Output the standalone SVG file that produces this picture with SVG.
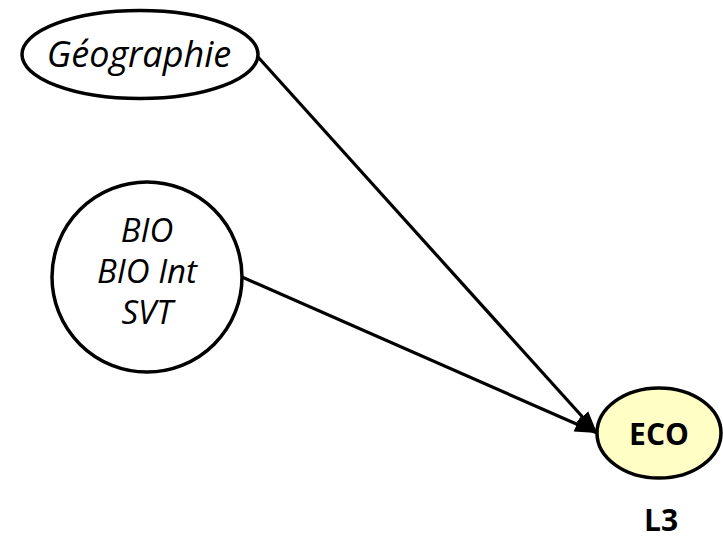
<svg xmlns="http://www.w3.org/2000/svg" width="723" height="540" viewBox="0 0 723 540">
  <style>
    .shape { stroke: #000; stroke-width: 3.5; }
    .lbl { font-family: "Open Sans", "Noto Sans", sans-serif; fill: #000; text-anchor: middle; }
    .it { font-style: italic; }
    .bd { font-weight: bold; }
    .conn { stroke: #000; stroke-width: 3.2; fill: none; }
  </style>
  <defs>
    <marker id="arrow" markerUnits="userSpaceOnUse" markerWidth="24" markerHeight="20" refX="22" refY="10" orient="auto">
      <path d="M0,2 L22,10 L0,18 Z" fill="#000"/>
    </marker>
  </defs>
  <rect width="723" height="540" fill="#fff"/>
  <g id="connectors">
    <line class="conn" x1="258" y1="57" x2="597" y2="433" marker-end="url(#arrow)"/>
    <line class="conn" x1="242" y1="277" x2="597" y2="433" marker-end="url(#arrow)"/>
  </g>
  <g id="geographie">
    <ellipse class="shape" cx="140" cy="54.5" rx="118" ry="44" fill="#fff"/>
    <text class="lbl it" x="139" y="67" font-size="36">Géographie</text>
  </g>
  <g id="bio">
    <circle class="shape" cx="147" cy="277" r="95" fill="#fff"/>
    <text class="lbl it" x="147" y="242" font-size="33">BIO</text>
    <text class="lbl it" x="147" y="283" font-size="33">BIO Int</text>
    <text class="lbl it" x="147" y="324" font-size="33">SVT</text>
  </g>
  <g id="eco">
    <ellipse class="shape" cx="659" cy="433" rx="62" ry="45" fill="#ffffc5"/>
    <text class="lbl bd" x="659" y="445" font-size="30">ECO</text>
  </g>
  <g id="l3">
    <text class="lbl bd" x="661" y="531" font-size="30">L3</text>
  </g>
</svg>
